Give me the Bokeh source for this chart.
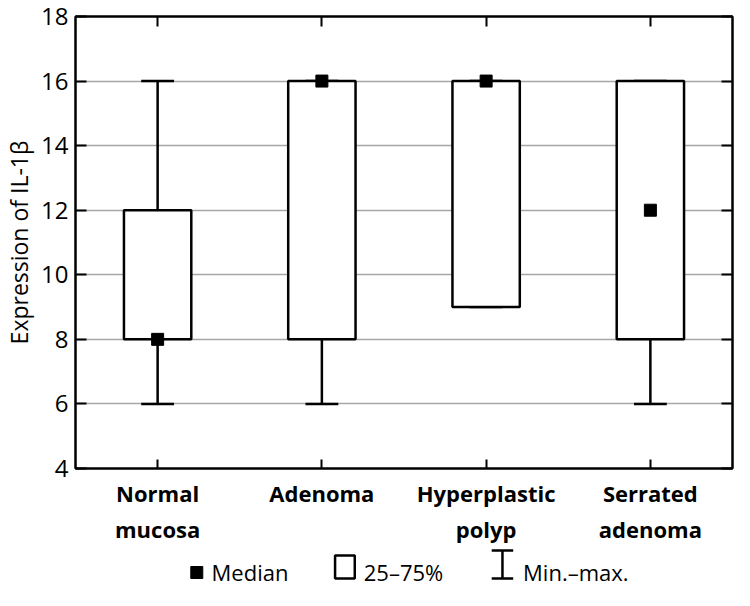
import numpy as np
from bokeh.plotting import figure
from bokeh.models import FixedTicker, LinearAxis
from bokeh.layouts import column
from bokeh.core.properties import value
from bokeh.embed import file_html
from bokeh.resources import INLINE

# ---- data ----
categories = ["Normal\nmucosa", "Adenoma", "Hyperplastic\npolyp", "Serrated\nadenoma"]
minimum = [6, 6, 9, 6]
q1 = [8, 8, 9, 8]
median = [8, 16, 16, 12]
q3 = [12, 16, 16, 16]
maximum = [16, 16, 16, 16]
y_ticks = [4, 6, 8, 10, 12, 14, 16, 18]
grid_ticks = [6, 8, 10, 12, 14, 16]
y_label = "Expression of IL-1β"
legend_labels = ["Median", "25–75%", "Min.–max."]

FONT = "Open Sans"
W = 734
xs = np.arange(1, len(categories) + 1)
box_half = 0.205
cap_half = 0.1

p = figure(width=W, height=546, x_range=(0.5, 4.5), y_range=(4, 18),
           output_backend="svg", toolbar_location=None,
           min_border_left=63, min_border_right=2, min_border_top=16,
           min_border_bottom=64, background_fill_color="white",
           border_fill_color="white")
p.outline_line_color = "black"
p.outline_line_width = 2

# grid
p.xgrid.grid_line_color = None
p.ygrid.ticker = FixedTicker(ticks=grid_ticks)
p.ygrid.grid_line_color = "#a6a6a6"
p.ygrid.grid_line_width = 1.5

# left axis
ya = p.yaxis[0]
ya.ticker = FixedTicker(ticks=y_ticks)
ya.major_tick_in = 11
ya.major_tick_out = 0
ya.minor_tick_line_color = None
ya.axis_line_width = 2
ya.major_tick_line_width = 2
ya.major_label_text_font = FONT
ya.major_label_text_font_size = "24px"
ya.major_label_text_color = "black"
ya.major_label_standoff = 7
ya.axis_label = y_label
ya.axis_label_text_font = FONT
ya.axis_label_text_font_size = "23px"
ya.axis_label_text_font_style = "normal"
ya.axis_label_text_color = "black"
ya.axis_label_standoff = 3

# bottom axis
xa = p.xaxis[0]
xa.ticker = FixedTicker(ticks=list(xs))
xa.major_label_overrides = {int(i): c for i, c in zip(xs, categories)}
xa.major_tick_in = 9
xa.major_tick_out = 0
xa.minor_tick_line_color = None
xa.axis_line_width = 2
xa.major_tick_line_width = 2
xa.major_label_text_font = FONT
xa.major_label_text_font_size = "22px"
xa.major_label_text_font_style = "bold"
xa.major_label_text_color = "black"
xa.major_label_standoff = 9

# right axis (ticks only)
ra = LinearAxis(ticker=FixedTicker(ticks=y_ticks), major_tick_in=11, major_tick_out=0,
                minor_tick_line_color=None, axis_line_width=2, major_tick_line_width=2,
                major_label_overrides={t: "" for t in y_ticks}, major_label_standoff=0)
p.add_layout(ra, "right")
# top axis (ticks only)
ta = LinearAxis(ticker=FixedTicker(ticks=list(xs)), major_tick_in=10, major_tick_out=0,
                minor_tick_line_color=None, axis_line_width=2, major_tick_line_width=2,
                major_label_overrides={int(i): "" for i in xs}, major_label_standoff=0)
p.add_layout(ta, "above")

# whiskers
p.segment(x0=xs, y0=q3, x1=xs, y1=maximum, line_color="black", line_width=2.5)
p.segment(x0=xs, y0=minimum, x1=xs, y1=q1, line_color="black", line_width=2.5)
p.segment(x0=xs - cap_half, y0=maximum, x1=xs + cap_half, y1=maximum, line_color="black", line_width=2.5)
p.segment(x0=xs - cap_half, y0=minimum, x1=xs + cap_half, y1=minimum, line_color="black", line_width=2.5)
# boxes
p.quad(left=xs - box_half, right=xs + box_half, bottom=q1, top=q3,
       fill_color="white", line_color="black", line_width=2.5)
# medians
p.scatter(x=xs, y=median, marker="square", size=12, color="black")

# ---- legend strip ----
LH = 44
leg = figure(width=W, height=LH, x_range=(0, W), y_range=(LH, 0),
             output_backend="svg", toolbar_location=None,
             x_axis_type=None, y_axis_type=None, min_border=0)
leg.outline_line_color = None
leg.grid.visible = False
base = 32
leg.scatter(x=[135.5], y=[base - 6], marker="square", size=12, color="black")
leg.quad(left=[290], right=[312], top=[base - 23], bottom=[base],
         fill_color="white", line_color="black", line_width=2.5)
leg.segment(x0=[477, 465, 465], y0=[base - 28, base - 28, base],
            x1=[477, 489, 489], y1=[base, base - 28, base],
            line_color="black", line_width=2.5)
leg.text(x=[152, 322, 500], y=[base - 7] * 3, text=legend_labels,
         text_font=value(FONT), text_font_size="22px", text_color="black",
         text_baseline="alphabetic", text_align="left")

layout = column(p, leg, spacing=0)
open("out.html", "w").write(file_html(layout, INLINE))
